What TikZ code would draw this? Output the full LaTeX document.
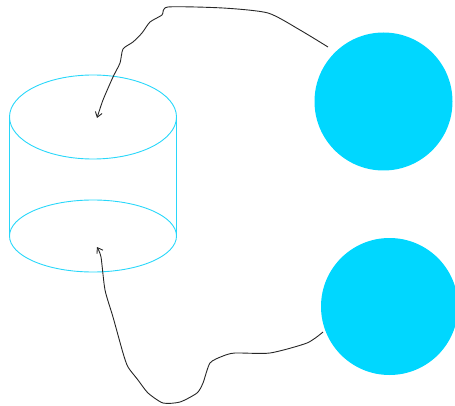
\documentclass[tikz,border=0pt]{standalone}
\usetikzlibrary{arrows.meta}
\definecolor{cyanfill}{RGB}{0,215,255}
\definecolor{cyanline}{RGB}{40,215,250}
\tikzset{
  ball/.style={circle,fill=cyanfill,draw=none,inner sep=0pt},
  cylline/.style={draw=cyanline,line width=0.9pt},
  conn/.style={draw=black!85,line width=0.9pt,line join=round,-{Straight Barb[length=5pt,width=7pt]}}
}
\begin{document}
\begin{tikzpicture}[x=1pt,y=-1pt]
\useasboundingbox (0,0) rectangle (455,406);
% circles
\node[ball,minimum size=138pt] (c1) at (383.5,101.5) {};
\node[ball,minimum size=137pt] (c2) at (389.5,306.5) {};
% cylinder
\coordinate (cyltop) at (93,117);
\coordinate (cylbot) at (93,236);
\draw[cylline] (cyltop) ellipse [x radius=83.5, y radius=42];
\draw[cylline] (cylbot) ellipse [x radius=83.5, y radius=36];
\draw[cylline] ([xshift=-83.5pt]cyltop) -- ([xshift=-83.5pt]cylbot);
\draw[cylline] ([xshift=83.5pt]cyltop) -- ([xshift=83.5pt]cylbot);
% connectors
\coordinate (s1) at (328,47);
\coordinate (t1) at (97,118);
\draw[conn] plot[smooth,tension=0.4] coordinates {(s1) (300,30) (268,13) (223,8) (168,7) (162,15) (150,22) (142,33) (133,42) (123,49) (120,63) (113,77) (103,100) (t1)};
\coordinate (s2) at (323,332);
\coordinate (t2) at (97,247);
\draw[conn] plot[smooth,tension=0.4] coordinates {(s2) (307,343) (270,353) (235,353) (223,356) (210,363) (203,383) (197,393) (180,402) (163,403) (148,393) (138,380) (128,367) (123,353) (113,317) (105,290) (101,257) (t2)};
\end{tikzpicture}
\end{document}
